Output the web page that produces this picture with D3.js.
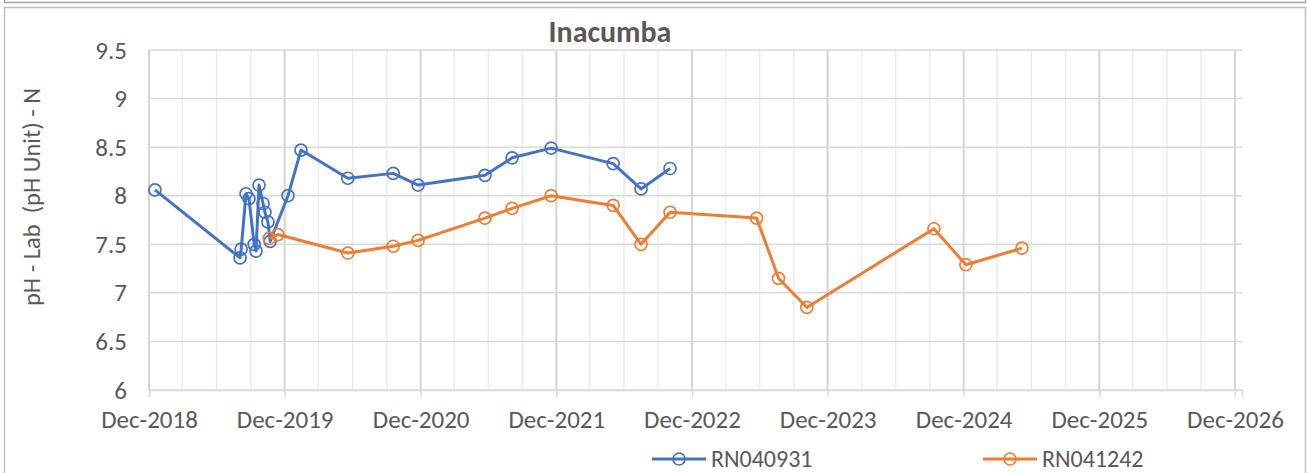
<!DOCTYPE html>
<html>
<head>
<meta charset="utf-8">
<script src="https://cdn.jsdelivr.net/npm/d3@7"></script>
<style>
  body { margin: 0; background: #fff; }
  text { font-family: Calibri, Carlito, "Open Sans", sans-serif; fill: #595959; }
</style>
</head>
<body>
<script>
// series data
const seriesNames = ["RN040931", "RN041242"];
const seriesColors = ["#4472C4", "#ED7D31"];

const rn040931Dates = [
  "2018-12-17", "2019-08-03", "2019-08-06", "2019-08-19", "2019-08-27", "2019-09-10",
  "2019-09-15", "2019-09-23", "2019-10-04", "2019-10-09", "2019-10-17", "2019-10-23",
  "2019-12-10", "2020-01-14", "2020-05-19", "2020-09-18", "2020-11-24", "2021-05-23",
  "2021-08-04", "2021-11-17", "2022-05-03", "2022-07-17", "2022-10-03"
];
const rn040931Values = [
  8.06, 7.36, 7.45, 8.02, 7.97, 7.50,
  7.43, 8.11, 7.92, 7.83, 7.73, 7.53,
  8.00, 8.47, 8.18, 8.23, 8.11, 8.21,
  8.39, 8.49, 8.33, 8.07, 8.28
];

const rn041242Dates = [
  "2019-10-21", "2019-11-13", "2020-05-19", "2020-09-18", "2020-11-24", "2021-05-23",
  "2021-08-04", "2021-11-17", "2022-05-03", "2022-07-17", "2022-10-03", "2023-05-24",
  "2023-07-22", "2023-10-06", "2024-09-12", "2024-12-07", "2025-05-07"
];
const rn041242Values = [
  7.56, 7.60, 7.41, 7.48, 7.54, 7.77,
  7.87, 8.00, 7.90, 7.50, 7.83, 7.77,
  7.15, 6.85, 7.66, 7.29, 7.46
];

const yTicks = [6, 6.5, 7, 7.5, 8, 8.5, 9, 9.5];
const xStart = "2018-12-01";
const xEnd = "2026-12-20";

const W = 1307, H = 473;
const parse = d3.timeParse("%Y-%m-%d");

const svg = d3.select("body")
    .append("svg")
    .attr("width", W)
    .attr("height", H);

// frame (bottom edge of the chart above + this chart's border)
svg.append("path")
    .attr("d", "M4.5,0 V2.5 H1305.5 V0")
    .attr("fill", "none")
    .attr("stroke", "#a6a6a6")
    .attr("stroke-width", 1.5);
svg.append("rect")
    .attr("x", 4.5).attr("y", 7.5)
    .attr("width", 1301).attr("height", 470)
    .attr("fill", "none")
    .attr("stroke", "#bfbfbf")
    .attr("stroke-width", 1.5);

const x = d3.scaleTime()
    .domain([parse(xStart), parse(xEnd)])
    .range([149, 1242]);

const y = d3.scaleLinear()
    .domain([6, 9.5])
    .range([390, 50]);

// gridlines
const quarters = d3.timeMonth.range(parse(xStart), parse(xEnd), 3);
const grid = svg.append("g");

grid.selectAll(".vgrid")
    .data(quarters)
    .enter()
    .append("line")
    .attr("x1", d => x(d)).attr("x2", d => x(d))
    .attr("y1", y(9.5)).attr("y2", y(6))
    .attr("stroke", d => d.getMonth() === 11 ? "#d4d4d4" : "#ececec")
    .attr("stroke-width", d => d.getMonth() === 11 ? 2 : 1.5);

grid.selectAll(".hgrid")
    .data(yTicks)
    .enter()
    .append("line")
    .attr("x1", x.range()[0]).attr("x2", x.range()[1])
    .attr("y1", d => y(d)).attr("y2", d => y(d))
    .attr("stroke", "#d9d9d9")
    .attr("stroke-width", 1.5);

// x axis
const years = quarters.filter(d => d.getMonth() === 11);
const xAxis = svg.append("g")
    .attr("transform", `translate(0,${y(6)})`)
    .call(d3.axisBottom(x)
        .tickValues(years)
        .tickFormat(d3.timeFormat("%b-%Y"))
        .tickSize(7)
        .tickPadding(13));
xAxis.select(".domain").attr("stroke", "#d9d9d9").attr("stroke-width", 1.5);
xAxis.selectAll(".tick line").attr("stroke", "#d9d9d9").attr("stroke-width", 1.5);
xAxis.selectAll(".tick text")
    .style("font-size", "25px")
    .attr("fill", "#595959");

// y axis labels
const yAxis = svg.append("g")
    .attr("transform", `translate(149,0)`)
    .call(d3.axisLeft(y)
        .tickValues(yTicks)
        .tickFormat(d3.format("~g"))
        .tickSize(0)
        .tickPadding(22));
yAxis.select(".domain").remove();
yAxis.selectAll(".tick text")
    .style("font-size", "25px")
    .attr("fill", "#595959");

// title
svg.append("text")
    .attr("x", 610).attr("y", 42)
    .attr("text-anchor", "middle")
    .style("font-size", "30px")
    .style("font-weight", "bold")
    .text("Inacumba");

// y title
svg.append("text")
    .attr("transform", "translate(40,197) rotate(-90)")
    .attr("text-anchor", "middle")
    .style("font-size", "24.5px")
    .style("white-space", "pre")
    .text("pH - Lab  (pH Unit) - N");

// series
const series = [
  { name: seriesNames[0], color: seriesColors[0], dates: rn040931Dates, values: rn040931Values },
  { name: seriesNames[1], color: seriesColors[1], dates: rn041242Dates, values: rn041242Values }
].map(s => ({ ...s, points: s.dates.map((d, i) => ({ date: parse(d), value: s.values[i] })) }));

const line = d3.line()
    .x(d => x(d.date))
    .y(d => y(d.value));

const sg = svg.selectAll(".series")
    .data(series)
    .enter()
    .append("g")
    .attr("class", "series");

sg.append("path")
    .attr("d", d => line(d.points))
    .attr("fill", "none")
    .attr("stroke", d => d.color)
    .attr("stroke-width", 3)
    .attr("stroke-linejoin", "round");

sg.each(function(s) {
    d3.select(this).selectAll("circle")
        .data(s.points)
        .enter()
        .append("circle")
        .attr("cx", d => x(d.date))
        .attr("cy", d => y(d.value))
        .attr("r", 6)
        .attr("fill", "none")
        .attr("stroke", s.color)
        .attr("stroke-width", 1.7);
});

// legend
const legendX = [652, 983];
const legend = svg.selectAll(".legend")
    .data(series)
    .enter()
    .append("g")
    .attr("class", "legend")
    .attr("transform", (d, i) => `translate(${legendX[i]},459)`);

legend.append("line")
    .attr("x1", 0).attr("x2", 54)
    .attr("stroke", d => d.color)
    .attr("stroke-width", 3);
legend.append("circle")
    .attr("cx", 27).attr("r", 6)
    .attr("fill", "none")
    .attr("stroke", d => d.color)
    .attr("stroke-width", 1.7);
legend.append("text")
    .attr("x", 59).attr("dy", "0.35em")
    .style("font-size", "24px")
    .text(d => d.name);
</script>
</body>
</html>
